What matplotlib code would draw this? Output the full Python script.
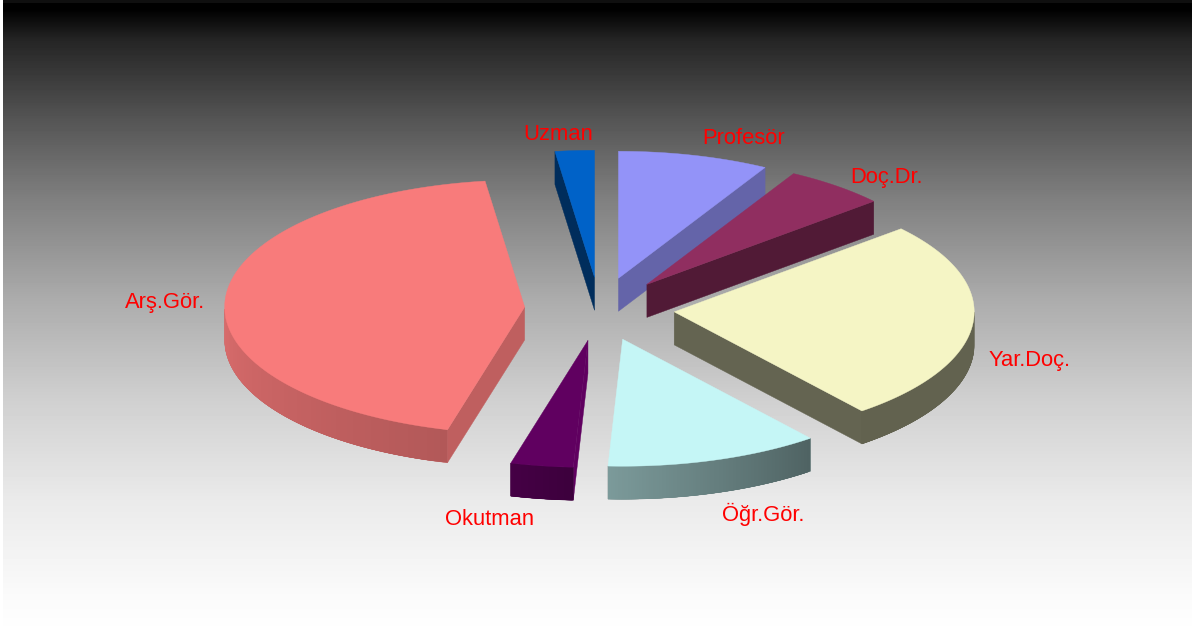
import numpy as np
import matplotlib
matplotlib.use("Agg")
import matplotlib.pyplot as plt

plt.rcParams['font.family'] = ['Liberation Sans', 'DejaVu Sans']

# kadro dagilimi (%), saat yonunde, tepeden baslayarak
labels = ['Profesör', 'Doç.Dr.', 'Yar.Doç.', 'Öğr.Gör.', 'Okutman', 'Arş.Gör.', 'Uzman']
values = [8.1, 5.5, 25.5, 11.5, 3.35, 43.6, 2.1]

colors = ['#9393f8', '#902e60', '#f5f5c5', '#c5f6f6', '#600060', '#f87b7b', '#0062c8']
cut_shade = [0.68, 0.56, 0.41, 0.65, 1.0, 0.77, 0.46]
label_offset = [(49, -17), (50, -8), (57, 37), (48, 54), (-52, 54), (-60, 4), (-17, -16)]

# geometri (piksel)
cx, cy = 599.5, 309
rx, ry = 300, 127
depth = 33
explode = 0.25

# arka plan gradyani
grad_y = [0, 9, 40, 120, 200, 300, 400, 500, 600, 635]
grad_v = [0, 0, 37, 85, 128, 172, 208, 234, 251, 255]


def ground(a, r=1.0):
    return r * rx * np.sin(np.radians(a)), -r * ry * np.cos(np.radians(a))


def rim_shade(a):
    return np.interp(a, [90, 141, 183, 195, 270], [0.40, 0.40, 0.63, 0.72, 0.88])


def shaded(color, s):
    return tuple(np.array(matplotlib.colors.to_rgb(color)) * s)


fig = plt.figure(figsize=(11.92, 6.35), dpi=100)
ax = fig.add_axes([0, 0, 1, 1])
ax.set_xlim(0, 1192)
ax.set_ylim(635, 0)
ax.axis('off')

rows = np.arange(635) + 0.5
gray = np.interp(rows, grad_y, grad_v) / 255
gray[:3] = 0.06
img = np.tile(gray[:, None], (1, 1192))
img[:, :3] = 1.0
ax.imshow(img, cmap='gray', vmin=0, vmax=1, extent=(0, 1192, 635, 0), aspect='auto', zorder=0)

edges = np.concatenate([[0], np.cumsum(values)]) * 360 / sum(values)
mids = (edges[:-1] + edges[1:]) / 2
# arkadan one dogru ciz
order = sorted(range(len(values)), key=lambda i: -np.cos(np.radians(mids[i])))

for i in order:
    a0, a1 = edges[i], edges[i + 1]
    col = colors[i]
    ox, oy = ground(mids[i], explode)
    tx, ty = cx + ox, cy + oy
    angs = np.linspace(a0, a1, 120)
    px, py = ground(angs)
    px, py = tx + px, ty + py

    # kesit yuzleri
    if np.sin(np.radians(a0)) < 0:
        ax.fill([tx, px[0], px[0], tx], [ty, py[0], py[0] + depth, ty + depth],
                color=shaded(col, cut_shade[i]), lw=0.3, zorder=2 + i * 0.01)
    if np.sin(np.radians(a1)) > 0:
        ax.fill([tx, px[-1], px[-1], tx], [ty, py[-1], py[-1] + depth, ty + depth],
                color=shaded(col, cut_shade[i]), lw=0.3, zorder=2 + i * 0.01)

    # dis kenar: seritler ust uste binsin, arada cizgi kalmasin
    front = np.where(np.cos(np.radians(angs)) < 0)[0]
    if len(front) > 1:
        ax.fill(np.r_[px[front], px[front][::-1]], np.r_[py[front], py[front][::-1] + depth],
                color=shaded(col, rim_shade(angs[front[len(front) // 2]])), lw=0.3,
                zorder=2 + i * 0.01)
        for j in front[:-1]:
            end = min(j + 4, front[-1])
            xs = px[j:end + 1]
            ys = py[j:end + 1]
            ax.fill(np.r_[xs, xs[::-1]], np.r_[ys, ys[::-1] + depth],
                    facecolor=shaded(col, rim_shade(angs[j])), edgecolor='none', lw=0,
                    zorder=2 + i * 0.01)

    # ust yuz
    ax.fill(np.r_[tx, px], np.r_[ty, py], color=col, lw=0.3, zorder=3 + i * 0.01)

    # etiket
    lx, ly = ground(mids[i], 1 + explode)
    ax.text(cx + lx + label_offset[i][0], cy + ly + label_offset[i][1], labels[i],
            color='#ff0000', fontsize=15.8, ha='center', va='center', zorder=5)

fig.savefig('out.png', dpi=100)
